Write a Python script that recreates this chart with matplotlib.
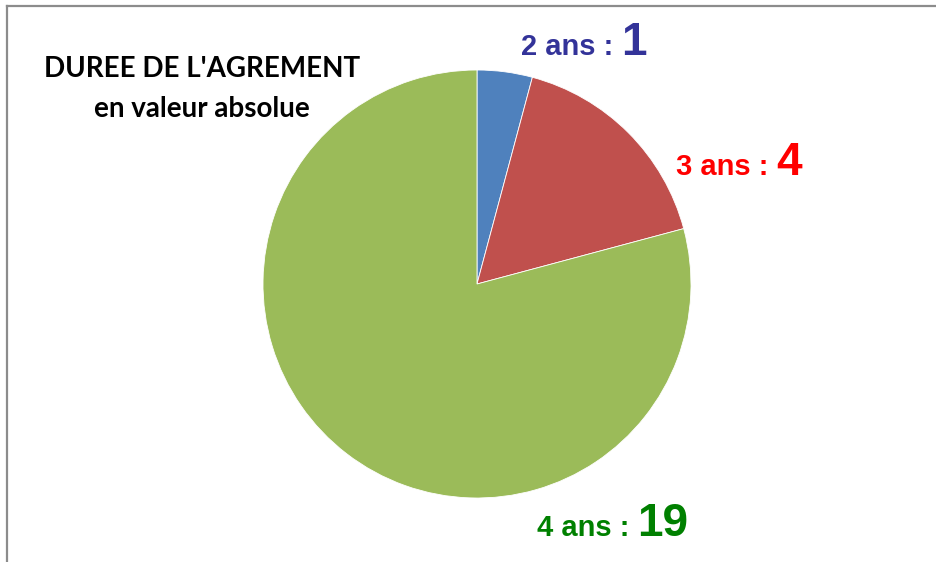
import matplotlib.pyplot as plt
from matplotlib.lines import Line2D

durations = ['2 ans', '3 ans', '4 ans']
counts = [1, 4, 19]
slice_colors = ['#4F81BD', '#C0504D', '#9BBB59']
label_colors = ['#333399', '#FF0000', '#008000']
# label anchor (left x, baseline y) in pixels from top-left
label_pos = [(521, 55), (676, 175), (537, 536)]

W, H = 936, 562
fig = plt.figure(figsize=(W / 100, H / 100), dpi=100)

# pie axes: centre (477, 284), radius 214 px
cx, cy, r = 477, 284, 214
ax = fig.add_axes([(cx - r) / W, (H - cy - r) / H, 2 * r / W, 2 * r / H])
ax.pie(counts, colors=slice_colors, startangle=90, counterclock=False,
       radius=1, wedgeprops=dict(linewidth=0.6, edgecolor='white'))
ax.set_xlim(-1, 1)
ax.set_ylim(-1, 1)
ax.set_aspect('equal')
ax.axis('off')

# chart frame (only left and top visible)
fig.add_artist(Line2D([7.5 / W, 7.5 / W], [0, 1 - 6 / H], color='#8c8c8c', lw=1.6))
fig.add_artist(Line2D([7.5 / W, 1], [1 - 6 / H, 1 - 6 / H], color='#8c8c8c', lw=1.6))

# title
fig.text(202 / W, 1 - 77 / H, "DUREE DE L'AGREMENT", ha='center', va='baseline',
         fontsize=20, fontweight='bold', family='Lato', color='black')
fig.text(202 / W, 1 - 117 / H, "en valeur absolue", ha='center', va='baseline',
         fontsize=20, fontweight='bold', family='Lato', color='black')

# labels: small "N ans :" then larger value
fig.canvas.draw()
renderer = fig.canvas.get_renderer()
for name, val, col, (x, y) in zip(durations, counts, label_colors, label_pos):
    t = fig.text(x / W, 1 - y / H, name + ' : ', ha='left', va='baseline',
                 fontsize=21, fontweight='bold', family='Liberation Sans', color=col)
    bb = t.get_window_extent(renderer=renderer)
    fig.text(bb.x1 / W, 1 - y / H, str(val), ha='left', va='baseline',
             fontsize=33, fontweight='bold', family='Liberation Sans', color=col)

fig.savefig('out.png', dpi=100, facecolor='white')
